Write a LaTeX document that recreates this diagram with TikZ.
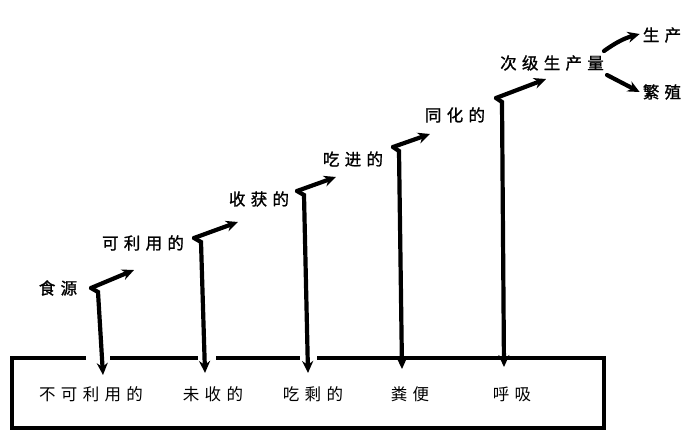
\documentclass[tikz,border=0pt]{standalone}
\usepackage{fontspec}
\newfontfamily\cjk[LetterSpace=32]{Noto Sans CJK SC}
\newfontfamily\cjkb[LetterSpace=32,FakeBold=1.2]{Noto Sans CJK SC}
\usetikzlibrary{arrows.meta}
\begin{document}
\begin{tikzpicture}[x=1pt,y=-1pt,
  lbl/.style={font=\cjkb\fontsize{16.5}{16.5}\selectfont, inner sep=0pt, text=black},
  blbl/.style={font=\cjk\fontsize{16.5}{16.5}\selectfont, inner sep=0pt, text=black},
  conn/.style={line width=4.2pt, line cap=round, -{Stealth[length=12pt,width=11pt]}},
  frame/.style={line width=3.2pt, line cap=square}]
\useasboundingbox (0,0) rectangle (699,432);
% level labels
\node[lbl] (food)  at (58,288)  {食源};
\node[lbl] (avail) at (143,243) {可利用的};
\node[lbl] (harv)  at (259,199) {收获的};
\node[lbl] (eaten) at (353,159) {吃进的};
\node[lbl] (assim) at (455,115) {同化的};
\node[lbl] (sec)   at (552,63)  {次级生产量};
\node[lbl] (prod)  at (662,35)  {生产};
\node[lbl] (repro) at (662,92)  {繁殖};
% bottom labels
\node[blbl] (b1) at (91,394)  {不可利用的};
\node[blbl] (b2) at (213,394) {未收的};
\node[blbl] (b3) at (313,394) {吃剩的};
\node[blbl] (b4) at (410,394) {粪便};
\node[blbl] (b5) at (512,394) {呼吸};
% junctions, tips and drop points
\coordinate (j1) at (91,288);  \coordinate (t1) at (134,270); \coordinate (d1) at (103,375);
\coordinate (j2) at (194,238); \coordinate (t2) at (238,222); \coordinate (d2) at (205,373);
\coordinate (j3) at (297,191); \coordinate (t3) at (336,177); \coordinate (d3) at (308,373);
\coordinate (j4) at (393,147); \coordinate (t4) at (430,134); \coordinate (d4) at (402,369);
\coordinate (j5) at (496,98);  \coordinate (t5) at (546,79);  \coordinate (d5) at (504,367);
\coordinate (s1) at (604,51);  \coordinate (s2) at (607,75);
% up arrows
\foreach \i in {1,...,5} {
  \draw[conn] (j\i) -- (t\i);
}
% down arrows with small bend
\draw[conn] (j1) -- (98,292) -- (d1);
\draw[conn] (j2) -- (201,242) -- (d2);
\draw[conn] (j3) -- (304,195) -- (d3);
\draw[conn] (j4) -- (399,151) -- (d4);
\draw[conn] (j5) -- (502,102) -- (d5);
% secondary production branches
\draw[conn] (s1) to[bend left=10] ([xshift=-3pt,yshift=1pt]prod.west);
\draw[conn] (s2) -- ([xshift=-3pt]repro.west);
% frame with gaps
\draw[frame] (86,358) -- (12,358) -- (12,428) -- (604,428) -- (604,358) -- (317,358);
\draw[frame] (110,358) -- (198,358);
\draw[frame] (216,358) -- (300,358);
\end{tikzpicture}
\end{document}
